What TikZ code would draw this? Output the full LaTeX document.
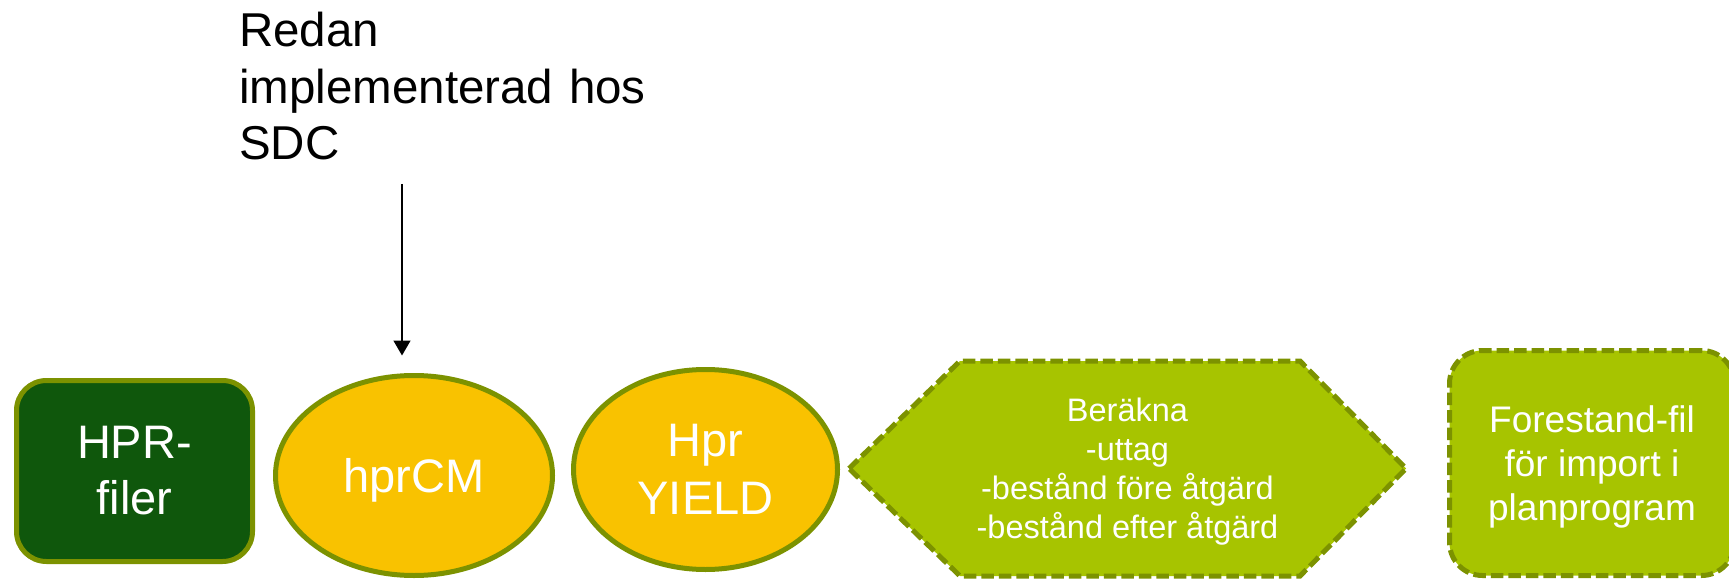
\documentclass[tikz,border=0pt]{standalone}
\usepackage{fontspec}
\setmainfont{Liberation Sans}
\usetikzlibrary{arrows.meta,shapes.geometric}

\definecolor{rimolive}{RGB}{124,146,0}
\definecolor{deepgreen}{RGB}{15,87,12}
\definecolor{goldfill}{RGB}{249,194,0}
\definecolor{limefill}{RGB}{167,196,0}

\begin{document}
\begin{tikzpicture}[x=1pt,y=-1pt,
  solidrim/.style={draw=rimolive, line width=5pt},
  dashrim/.style={draw=rimolive, line width=5pt, dash pattern=on 12.5pt off 5pt},
  lbl/.style={text=white, align=center, inner sep=0pt},
  oval/.style={ellipse, solidrim, fill=goldfill, lbl},
  pointer/.style={line width=1.5pt, -{Triangle[width=17pt,length=15pt]}}]
\useasboundingbox (0,0) rectangle (1729,580);
\clip (0,0) rectangle (1729,580);

% input files
\node[solidrim, fill=deepgreen, rounded corners=30pt, lbl,
      minimum width=236pt, minimum height=181pt,
      font=\fontsize{47}{56}\selectfont] (hpr) at (134.5,471) {HPR-\\filer};

% processing steps
\node[oval, minimum width=277pt, minimum height=200pt, text depth=0pt,
      font=\fontsize{47}{56}\selectfont] (cm) at (414,475.5) {hprCM};
\node[oval, minimum width=264pt, minimum height=200pt,
      font=\fontsize{47}{58}\selectfont] (yield) at (705.5,469.5) {Hpr\\YIELD};

% calculation step (hexagon)
\draw[dashrim, fill=limefill] (849,468.5) -- (960,361) -- (1300,361)
  -- (1406,468.5) -- (1300,576) -- (960,576) -- cycle;
\node[lbl, font=\fontsize{32.5}{38.7}\selectfont] (calc) at (1127.5,471.6)
  {Beräkna\\-uttag\\-bestånd före åtgärd\\-bestånd efter åtgärd};

% output file: box, then its text set slightly below the box centre
\node[dashrim, fill=limefill, rounded corners=33pt,
      minimum width=285pt, minimum height=225pt] (out) at (1592,463) {};
\node[lbl, font=\fontsize{37}{44}\selectfont] (outtext) at (1592,467)
  {Forestand-fil\\för import i\\planprogram};

% note with arrow
\node[anchor=base west, inner sep=0pt, text width=440pt, align=left,
      font=\fontsize{47.5}{56.5}\selectfont] (note) at (239,47)
  {Redan\\implementerad hos\\SDC};
\coordinate (tail) at (402,184);
\draw[pointer, shorten >=17.5pt] (tail) -- (tail |- cm.north);
\end{tikzpicture}
\end{document}
